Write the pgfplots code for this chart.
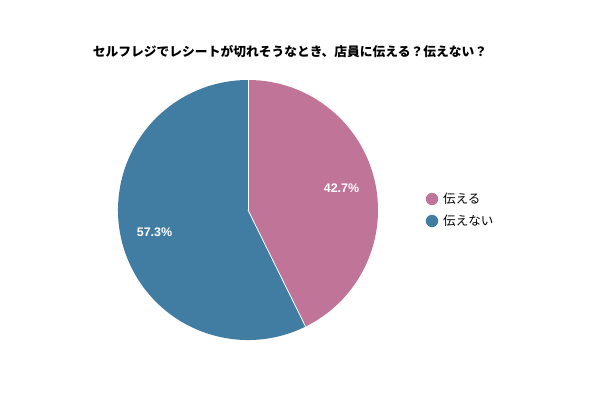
\documentclass[border=0pt]{standalone}
\usepackage{pgfplots}
\pgfplotsset{compat=1.18}
\usepackage{pgfplotstable}
\usetikzlibrary{calc}
\usepackage{fontspec}
\setmainfont{Liberation Sans}
\newfontfamily\cjk{Noto Sans CJK JP}
\definecolor{pinkc}{HTML}{C07497}
\definecolor{bluec}{HTML}{417DA3}
\pgfplotstableread{
label value
a 42.7
b 57.3
}\pietable
\begin{document}
\begin{tikzpicture}
\pgfplotstablegetelem{0}{value}\of\pietable \let\va\pgfplotsretval
\pgfplotstablegetelem{1}{value}\of\pietable \let\vb\pgfplotsretval
\pgfmathsetmacro\angA{90-3.6*\va}
\pgfmathsetmacro\angB{\angA-3.6*\vb}
\pgfmathsetmacro\midA{90-1.8*\va}
\pgfmathsetmacro\midB{\angA-1.8*\vb}
\begin{axis}[width=600bp,height=400bp,scale only axis,xmin=0,xmax=600,ymin=0,ymax=400,hide axis,clip=false,
  /pgf/number format/assume math mode=true]
\path (axis cs:0,0) rectangle (axis cs:600,400);
\fill[pinkc] (axis cs:248,190) -- ++(90:130bp) arc[start angle=90,end angle=\angA,radius=130bp] -- cycle;
\fill[bluec] (axis cs:248,190) -- ++(\angA:130bp) arc[start angle=\angA,end angle=\angB,radius=130bp] -- cycle;
\draw[white,line width=0.8pt] (axis cs:248,190) -- ++(90:130bp);
\draw[white,line width=0.8pt] (axis cs:248,190) -- ++(\angA:130bp);
\node[white,font=\bfseries\fontsize{12.5}{14}\selectfont] at ($(axis cs:248,190)+(\midA:96bp)$) {\pgfmathprintnumber[fixed,precision=1,fixed zerofill,assume math mode=true]{\va}\%};
\node[white,font=\bfseries\fontsize{12.5}{14}\selectfont] at ($(axis cs:248,190)+(\midB:96bp)$) {\pgfmathprintnumber[fixed,precision=1,fixed zerofill,assume math mode=true]{\vb}\%};
\node at (axis cs:290,348) {\cjk\bfseries\fontsize{12.8}{15}\selectfont セルフレジでレシートが切れそうなとき、店員に伝える？伝えない？};
\fill[pinkc] (axis cs:432,201) circle[radius=6.2bp];
\fill[bluec] (axis cs:432,179) circle[radius=6.2bp];
\node[anchor=west,inner sep=0pt] at (axis cs:443,201) {\cjk\fontsize{12.6}{14}\selectfont 伝える};
\node[anchor=west,inner sep=0pt] at (axis cs:443,179) {\cjk\fontsize{12.6}{14}\selectfont 伝えない};
\end{axis}
\end{tikzpicture}
\end{document}
